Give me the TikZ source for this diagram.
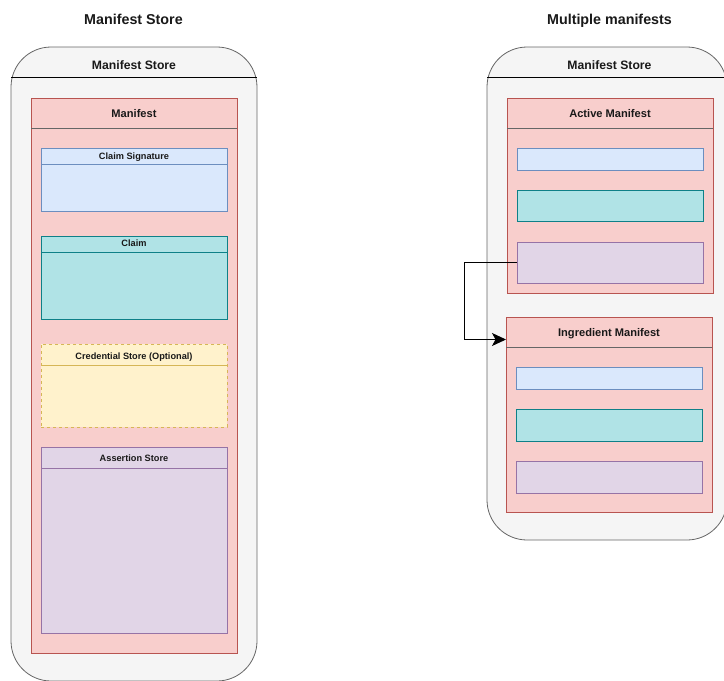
\documentclass[tikz,border=0pt]{standalone}
\usepackage{fontspec}
\setmainfont{Liberation Sans}
\usetikzlibrary{arrows.meta,calc}
\definecolor{storefill}{HTML}{F5F5F5}
\definecolor{storeline}{HTML}{666666}
\definecolor{redfill}{HTML}{F8CECC}
\definecolor{redline}{HTML}{B85450}
\definecolor{bluefill}{HTML}{DAE8FC}
\definecolor{blueline}{HTML}{6C8EBF}
\definecolor{tealfill}{HTML}{B0E3E6}
\definecolor{tealline}{HTML}{0E8088}
\definecolor{yelfill}{HTML}{FFF2CC}
\definecolor{yelline}{HTML}{D6B656}
\definecolor{purfill}{HTML}{E1D5E7}
\definecolor{purline}{HTML}{9673A6}
\begin{document}
\begin{tikzpicture}[x=1pt,y=-1pt,
  box/.style={rectangle,draw,line width=0.8pt,anchor=north west,inner sep=0pt,outer sep=0pt},
  storebox/.style={box,fill=storefill,draw=storeline,rounded corners=40pt},
  manbox/.style={box,fill=redfill,draw=redline},
  bluebox/.style={box,fill=bluefill,draw=blueline},
  tealbox/.style={box,fill=tealfill,draw=tealline},
  yelbox/.style={box,fill=yelfill,draw=yelline,dashed},
  purbox/.style={box,fill=purfill,draw=purline},
  sep/.style={line width=0.8pt},
  txt/.style={anchor=base,inner sep=0pt,text=black!90},
  title/.style={txt,font=\fontsize{14.3}{17}\selectfont\bfseries},
  hstore/.style={txt,font=\fontsize{12.2}{14}\selectfont\bfseries},
  hman/.style={txt,font=\fontsize{11.1}{13}\selectfont\bfseries},
  hsmall/.style={txt,font=\fontsize{9.2}{11}\selectfont\bfseries},
  conn/.style={line width=0.9pt}
]
\useasboundingbox (0,0) rectangle (724,681);

% ---------- left: single manifest ----------
\node[title] (t1) at (133.5,24) {Manifest Store};
\node[storebox,minimum width=246pt,minimum height=634pt] (s1) at (11,47) {};
\draw[sep,black] (s1.west |- 0,77) -- (s1.east |- 0,77);
\node[hstore] (s1h) at (134,69) {Manifest Store};

\node[manbox,minimum width=206pt,minimum height=555pt] (m1) at (31,98) {};
\draw[sep,storeline] (m1.west |- 0,128) -- (m1.east |- 0,128);
\node[hman] (m1h) at (134,117) {Manifest};

\node[bluebox,minimum width=186pt,minimum height=63pt] (cs) at (41,148) {};
\draw[sep,blueline] (cs.west |- 0,164) -- (cs.east |- 0,164);
\node[hsmall] (csh) at (134,159) {Claim Signature};

\node[tealbox,minimum width=186pt,minimum height=83pt] (cl) at (41,236) {};
\draw[sep,tealline] (cl.west |- 0,252) -- (cl.east |- 0,252);
\node[hsmall] (clh) at (134,246.5) {Claim};

\node[yelbox,minimum width=186pt,minimum height=83pt] (cr) at (41,344) {};
\draw[sep,yelline] (cr.west |- 0,365) -- (cr.east |- 0,365);
\node[hsmall] (crh) at (134,359) {Credential Store (Optional)};

\node[purbox,minimum width=186pt,minimum height=186pt] (as) at (41,447) {};
\draw[sep,purline] (as.west |- 0,468) -- (as.east |- 0,468);
\node[hsmall] (ash) at (134,461.5) {Assertion Store};

% ---------- right: multiple manifests ----------
\node[title] (t2) at (609.5,24) {Multiple manifests};
\node[storebox,minimum width=240pt,minimum height=493pt] (s2) at (487,47) {};
\draw[sep,black] (s2.west |- 0,77) -- (s2.east |- 0,77);
\node[hstore] (s2h) at (609.5,69) {Manifest Store};

% active manifest
\node[manbox,minimum width=206pt,minimum height=195pt] (am) at (507,98) {};
\draw[sep,storeline] (am.west |- 0,128) -- (am.east |- 0,128);
\node[hman] (amh) at (610,117) {Active Manifest};
\node[bluebox,minimum width=186pt,minimum height=22pt] (ab) at (517,148) {};
\node[tealbox,minimum width=186pt,minimum height=31pt] (at) at (517,190) {};
\node[purbox,minimum width=186pt,minimum height=41pt] (ap) at (517,242) {};

% ingredient manifest
\node[manbox,minimum width=206pt,minimum height=195pt] (im) at (506,317) {};
\draw[sep,storeline] (im.west |- 0,347) -- (im.east |- 0,347);
\node[hman] (imh) at (609,336) {Ingredient Manifest};
\node[bluebox,minimum width=186pt,minimum height=22pt] (ib) at (516,367) {};
\node[tealbox,minimum width=186pt,minimum height=32pt] (it) at (516,409) {};
\node[purbox,minimum width=186pt,minimum height=32pt] (ip) at (516,461) {};

% reference from the active manifest's assertions to the ingredient
\coordinate (bend) at (464,262.5);
\coordinate (imin) at (506,339.5);
\draw[conn,-{Stealth[length=14pt,width=13pt,inset=3.5pt]}] (ap.west) -- (bend) |- (imin);
\end{tikzpicture}
\end{document}
